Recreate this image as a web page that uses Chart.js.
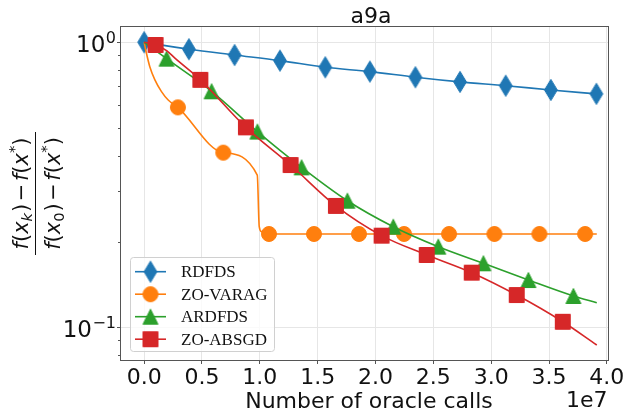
<!DOCTYPE html>
<html>
<head>
<meta charset="utf-8">
<script src="https://cdn.jsdelivr.net/npm/chart.js@4.4.0/dist/chart.umd.min.js"></script>
<style>
  html, body { margin: 0; padding: 0; background: #fff; }
  canvas { display: block; }
</style>
</head>
<body>
<canvas id="chart" width="628" height="411"></canvas>
<script>
// oracle calls on x, relative gap (f(x_k)-f*)/(f(x_0)-f*) on y
const rdfdsX = [0, 0.387e7, 0.782e7, 1.174e7, 1.566e7, 1.952e7, 2.345e7, 2.731e7, 3.126e7, 3.516e7, 3.910e7];
const rdfdsY = [1.0, 0.945, 0.902, 0.862, 0.817, 0.789, 0.754, 0.726, 0.704, 0.680, 0.659];

// ZO-VARAG: curve points without markers, then the marked points
const varagLineX = [0, 0.020e7, 0.049e7, 0.093e7, 0.150e7, 0.208e7, 0.978e7, 0.995e7, 1.015e7, 3.913e7];
const varagLineY = [1.0, 0.915, 0.821, 0.738, 0.671, 0.627, 0.342, 0.2254, 0.2164, 0.2125];
const varagMarkX = [0.292e7, 0.684e7, 1.079e7, 1.468e7, 1.857e7, 2.247e7, 2.636e7, 3.028e7, 3.417e7, 3.812e7];
const varagMarkY = [0.591, 0.410, 0.2125, 0.2125, 0.2125, 0.2125, 0.2125, 0.2125, 0.2125, 0.2125];

const ardfdsLineX = [0, 3.913e7];
const ardfdsLineY = [1.0, 0.122];
const ardfdsMarkX = [0.194e7, 0.583e7, 0.979e7, 1.361e7, 1.757e7, 2.154e7, 2.543e7, 2.933e7, 3.322e7, 3.711e7];
const ardfdsMarkY = [0.876, 0.673, 0.486, 0.364, 0.278, 0.2254, 0.1918, 0.1677, 0.1465, 0.1288];

const absgdLineX = [0, 0.194e7, 0.266e7, 3.913e7];
const absgdLineY = [1.0, 0.935, 0.879, 0.0867];
const absgdMarkX = [0.099e7, 0.486e7, 0.880e7, 1.266e7, 1.658e7, 2.053e7, 2.443e7, 2.832e7, 3.221e7, 3.619e7];
const absgdMarkY = [0.978, 0.738, 0.503, 0.371, 0.2666, 0.2097, 0.1794, 0.1555, 0.1298, 0.1046];

const xTicks = [0, 0.5e7, 1.0e7, 1.5e7, 2.0e7, 2.5e7, 3.0e7, 3.5e7, 4.0e7];
const yMajorTicks = [0.1, 1];
const yMinorTicks = [0.08, 0.09, 0.2, 0.3, 0.4, 0.5, 0.6, 0.7, 0.8, 0.9];

const seriesNames = ['RDFDS', 'ZO-VARAG', 'ARDFDS', 'ZO-ABSGD'];

const BLUE = '#1f77b4', ORANGE = '#ff7f0e', GREEN = '#2ca02c', RED = '#d62728';
const FONT = '"DejaVu Sans"';

// matplotlib-like markers drawn into small canvases (ms = 15)
function makeMarker(shape, color) {
  const c = document.createElement('canvas');
  c.width = 26; c.height = 26;
  const g = c.getContext('2d');
  g.translate(13, 13);
  g.fillStyle = color;
  g.strokeStyle = color;
  g.lineWidth = 1;
  g.beginPath();
  if (shape === 'circle') {
    g.arc(0, 0, 7.5, 0, Math.PI * 2);
  } else if (shape === 'square') {
    g.rect(-7.5, -7.5, 15, 15);
  } else if (shape === 'triangle') {
    g.moveTo(0, -7.5); g.lineTo(7.5, 7.5); g.lineTo(-7.5, 7.5); g.closePath();
  } else {
    g.moveTo(0, -10.6); g.lineTo(6.4, 0); g.lineTo(0, 10.6); g.lineTo(-6.4, 0); g.closePath();
  }
  g.fill();
  g.stroke();
  return c;
}

const markers = [
  makeMarker('diamond', BLUE),
  makeMarker('circle', ORANGE),
  makeMarker('triangle', GREEN),
  makeMarker('square', RED)
];
const colors = [BLUE, ORANGE, GREEN, RED];

function buildPoints(lineX, lineY, markX, markY) {
  const pts = [];
  lineX.forEach((x, i) => pts.push({ x: x, y: lineY[i], m: false }));
  markX.forEach((x, i) => pts.push({ x: x, y: markY[i], m: true }));
  pts.sort((a, b) => a.x - b.x);
  return pts;
}

const seriesPoints = [
  buildPoints([], [], rdfdsX, rdfdsY),
  buildPoints(varagLineX, varagLineY, varagMarkX, varagMarkY),
  buildPoints(ardfdsLineX, ardfdsLineY, ardfdsMarkX, ardfdsMarkY),
  buildPoints(absgdLineX, absgdLineY, absgdMarkX, absgdMarkY)
];

const datasets = seriesPoints.map((pts, i) => ({
  label: seriesNames[i],
  data: pts.map(p => ({ x: p.x, y: p.y })),
  borderColor: colors[i],
  backgroundColor: colors[i],
  borderWidth: 1.6,
  pointStyle: markers[i],
  pointRadius: pts.map(p => (p.m ? 7 : 0)),
  pointHoverRadius: 0,
  cubicInterpolationMode: 'monotone',
  order: 3 - i
}));

// math label helpers (f(x_k) - f(x*) over f(x_0) - f(x*))
function runFont(r) { return (r.it ? 'italic ' : '') + r.sz + 'px ' + FONT; }
function fracRuns(sub, subItalic) {
  const S = 21, s = 14.7;
  return [
    { t: 'f', it: true, sz: S },
    { t: '(', sz: S },
    { t: 'x', it: true, sz: S },
    { t: sub, it: subItalic, sz: s, dy: 4 },
    { t: ')', sz: S, pre: 1 },
    { t: '\u2212', sz: S, pre: 2.5, post: 2.5 },
    { t: 'f', it: true, sz: S },
    { t: '(', sz: S },
    { t: 'x', it: true, sz: S },
    { t: '*', sz: s, dy: -9 },
    { t: ')', sz: S }
  ];
}
function runsWidth(ctx, runs) {
  let w = 0;
  runs.forEach(r => { ctx.font = runFont(r); w += (r.pre || 0) + ctx.measureText(r.t).width + (r.post || 0); });
  return w;
}
function drawRuns(ctx, runs, x, y) {
  runs.forEach(r => {
    ctx.font = runFont(r);
    x += r.pre || 0;
    ctx.fillText(r.t, x, y + (r.dy || 0));
    x += ctx.measureText(r.t).width + (r.post || 0);
  });
}

const overlay = {
  id: 'overlay',
  afterDatasetsDraw(chart) {
    const ctx = chart.ctx, ca = chart.chartArea;
    const ys = chart.scales.y;
    ctx.save();
    ctx.strokeStyle = '#555';
    ctx.lineWidth = 1;
    ctx.strokeRect(Math.round(ca.left) - 0.5, Math.round(ca.top) - 0.5,
      Math.round(ca.right - ca.left) + 1, Math.round(ca.bottom - ca.top) + 1);
    // minor ticks on the log axis
    ctx.beginPath();
    yMinorTicks.forEach(v => {
      const y = Math.round(ys.getPixelForValue(v)) + 0.5;
      ctx.moveTo(ca.left - 0.5, y);
      ctx.lineTo(ca.left - 3, y);
    });
    ctx.stroke();
    ctx.restore();
  },
  afterDraw(chart) {
    const ctx = chart.ctx, ca = chart.chartArea;
    const xs = chart.scales.x, ys = chart.scales.y;
    ctx.save();
    ctx.fillStyle = '#111';

    // title
    ctx.font = '22px ' + FONT;
    ctx.textAlign = 'center';
    ctx.textBaseline = 'alphabetic';
    ctx.fillText('a9a', 371, 22.5);

    // x tick labels
    xs.ticks.forEach(t => {
      ctx.fillText((t.value / 1e7).toFixed(1), xs.getPixelForValue(t.value), 383.5);
    });
    ctx.fillText('Number of oracle calls', 369, 408);
    ctx.textAlign = 'right';
    ctx.fillText('1e7', 607.5, 406.5);

    // y tick labels 10^n
    yMajorTicks.forEach(v => {
      const y = ys.getPixelForValue(v);
      const exp = Math.round(Math.log10(v));
      const sup = exp < 0 ? '\u2212' + (-exp) : String(exp);
      ctx.textAlign = 'left';
      ctx.font = '16px ' + FONT;
      const sw = ctx.measureText(sup).width;
      ctx.fillText(sup, 116 - sw, y + 1);
      ctx.textAlign = 'right';
      ctx.font = '23px ' + FONT;
      ctx.fillText('10', 116 - sw - 0.5, y + 9.3);
    });

    // y axis label as a fraction
    ctx.save();
    ctx.translate(35.5, (ca.top + ca.bottom) / 2);
    ctx.rotate(-Math.PI / 2);
    ctx.textAlign = 'left';
    const num = fracRuns('k', true), den = fracRuns('0', false);
    drawRuns(ctx, num, -runsWidth(ctx, num) / 2, -7.5);
    drawRuns(ctx, den, -runsWidth(ctx, den) / 2, 24);
    ctx.fillRect(-61.5, -0.5, 123, 1);
    ctx.restore();

    // legend
    const lx = 130.5, ly = 257.5, lw = 144, lh = 94, rad = 3;
    ctx.beginPath();
    ctx.moveTo(lx + rad, ly);
    ctx.arcTo(lx + lw, ly, lx + lw, ly + lh, rad);
    ctx.arcTo(lx + lw, ly + lh, lx, ly + lh, rad);
    ctx.arcTo(lx, ly + lh, lx, ly, rad);
    ctx.arcTo(lx, ly, lx + lw, ly, rad);
    ctx.closePath();
    ctx.fillStyle = 'rgba(255,255,255,0.8)';
    ctx.fill();
    ctx.strokeStyle = '#d0d0d0';
    ctx.lineWidth = 1;
    ctx.stroke();

    ctx.textAlign = 'left';
    ctx.font = '17px "Liberation Serif"';
    seriesNames.forEach((name, i) => {
      const y = 271.7 + i * 22.5;
      ctx.strokeStyle = colors[i];
      ctx.lineWidth = 1.6;
      ctx.beginPath();
      ctx.moveTo(135, y);
      ctx.lineTo(166, y);
      ctx.stroke();
      ctx.drawImage(markers[i], 150.5 - 13, y - 13);
      ctx.fillStyle = '#111';
      ctx.fillText(name, 181, y + 5.5);
    });
    ctx.restore();
  }
};

new Chart(document.getElementById('chart'), {
  type: 'line',
  data: { datasets: datasets },
  options: {
    responsive: false,
    animation: false,
    devicePixelRatio: 1,
    events: [],
    layout: { padding: { left: 0, top: 27, right: 20, bottom: 0 } },
    plugins: {
      legend: { display: false },
      title: { display: false },
      tooltip: { enabled: false }
    },
    scales: {
      x: {
        type: 'linear',
        min: -0.2e7,
        max: 4.01e7,
        afterBuildTicks: scale => { scale.ticks = xTicks.map(v => ({ value: v })); },
        afterFit: scale => { scale.height = 51; },
        ticks: { display: false },
        border: { display: false },
        grid: { color: '#e6e6e6', lineWidth: 1, drawTicks: true, tickLength: 4, tickColor: '#555' }
      },
      y: {
        type: 'logarithmic',
        min: 0.0768,
        max: 1.131,
        afterBuildTicks: scale => {
          scale.ticks = yMinorTicks.concat(yMajorTicks).sort((a, b) => a - b).map(v => ({ value: v }));
        },
        afterFit: scale => { scale.width = 121; },
        ticks: { display: false },
        border: { display: false },
        grid: {
          color: c => (yMajorTicks.includes(c.tick.value) ? '#e6e6e6' : 'rgba(0,0,0,0)'),
          tickColor: c => (yMajorTicks.includes(c.tick.value) ? '#555' : 'rgba(0,0,0,0)'),
          lineWidth: 1,
          drawTicks: true,
          tickLength: 4
        }
      }
    }
  },
  plugins: [overlay]
});
</script>
</body>
</html>
